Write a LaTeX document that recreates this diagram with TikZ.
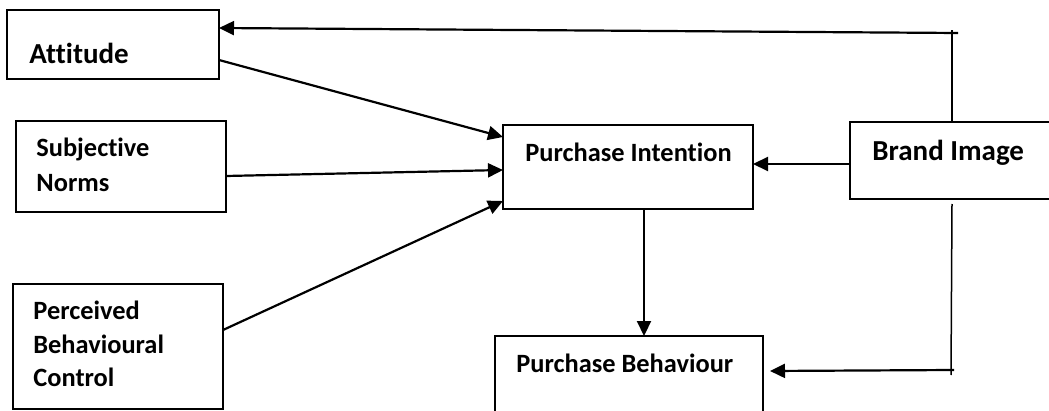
\documentclass[tikz,border=0pt]{standalone}
\usepackage{fontspec}
\setmainfont{Carlito}[Ligatures=NoCommon]
\usetikzlibrary{calc, arrows.meta}

\tikzset{
    box/.style={draw, line width=0.85pt, inner sep=0pt, outer sep=0pt},
    lbl/.style={anchor=base west, inner sep=0pt, align=left, font=\bfseries\fontsize{13.2}{17.5}\selectfont},
    biglbl/.style={anchor=base west, inner sep=0pt, font=\bfseries\fontsize{14.5}{17.5}\selectfont},
    link/.style={line width=1.1pt, -{Triangle[length=7.5pt, width=7pt]}},
    rail/.style={line width=0.75pt},
}

\begin{document}
\begin{tikzpicture}[x=0.5pt, y=-0.5pt]
                \clip (0,0) rectangle (1049,411);
                \fill[white] (0,0) rectangle (1049,411);
                % boxes
                \node[box, minimum width=106pt, minimum height=34.5pt] (att) at (113,44.5) {};
                \node[box, minimum width=105pt, minimum height=45.5pt] (sn) at (121,166.5) {};
                \node[box, minimum width=105pt, minimum height=62.5pt] (pbc) at (118,346.5) {};
                \node[box, minimum width=125pt, minimum height=42pt] (pi) at (628,167) {};
                \node[box, minimum width=105pt, minimum height=38.5pt] (bi) at (955,160.5) {};
                \node[box, minimum width=134pt, minimum height=47pt] (pb) at (629,383) {};
                % texts
                \node[biglbl] (att-txt) at (29,64) {Attitude};
                \node[lbl, text width=100pt] (sn-txt) at (36,157) {Subjective\\Norms};
                \node[lbl, text width=100pt, font=\bfseries\fontsize{13.2}{16.7}\selectfont] (pbc-txt) at (33,320) {Perceived\\Behavioural\\Control};
                \node[lbl] (pi-txt) at (525,162) {Purchase Intention};
                \node[biglbl] (bi-txt) at (872,161) {Brand Image};
                \node[lbl] (pb-txt) at (516,372) {Purchase Behaviour};
                % corners of the feedback line
                \coordinate (topc) at (952,30);
                \coordinate (topend) at (958,33);
                \coordinate (botc) at (951,375);
                \coordinate (botend) at (954,370);
                % arrows
                \draw[link] ([yshift=-7.75pt]att.east) -- ([yshift=15pt]pi.west);
                \draw[link] ([yshift=-4.75pt]sn.east) -- ([yshift=-1.5pt]pi.west);
                \draw[link] ([yshift=8.25pt]pbc.east) -- ([yshift=-17pt]pi.west);
                \draw[link] ([yshift=-1.75pt]bi.west) -- ([yshift=-1.75pt]bi.west -| pi.east);
                \draw[link] ([xshift=8pt]pi.south) -- ([xshift=8pt]pi.south |- pb.north);
                \draw[rail] ([xshift=-1.5pt]bi.north) -- (topc);
                \draw[link] (topend) -- ([yshift=8.25pt]att.east);
                \draw[rail] ([xshift=-1.5pt, yshift=-2.5pt]bi.south) -- (botc);
                \draw[link] (botend) -- ([xshift=3.5pt, yshift=6pt]pb.east);
\end{tikzpicture}
\end{document}
